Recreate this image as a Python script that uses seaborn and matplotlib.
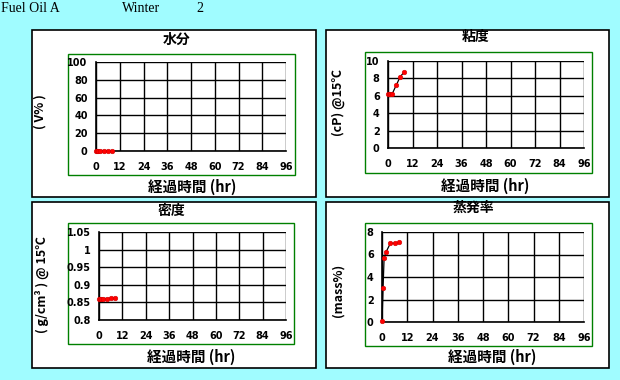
import matplotlib
matplotlib.use("Agg")
import matplotlib.pyplot as plt
import seaborn as sns
import pandas as pd
from matplotlib.patches import Rectangle

# ---- data ----
hours = [0, 0.5, 1, 2, 4, 6, 8]
water = [0, 0, 0, 0, 0, 0, 0]
viscosity = [6.2, 6.2, 6.2, 6.2, 7.2, 8.2, 8.75]
density = [0.859, 0.860, 0.860, 0.861, 0.861, 0.862, 0.862]
evaporation = [0.05, 3.0, 5.7, 6.25, 7.0, 7.0, 7.08]
x_ticks = [0, 12, 24, 36, 48, 60, 72, 84, 96]

titles = ["水分", "粘度", "密度", "蒸発率"]
ylabels = ["( V% )", "(cP) @15℃", "( g/cm³ ) @ 15℃", "(mass%)"]
xlabel = "経過時間 (hr)"
header = ["Fuel Oil A", "Winter", "2"]

y_ticks = [
    [0, 20, 40, 60, 80, 100],
    [0, 2, 4, 6, 8, 10],
    [0.8, 0.85, 0.9, 0.95, 1, 1.05],
    [0, 2, 4, 6, 8],
]
y_ticklabels = [
    ["0", "20", "40", "60", "80", "100"],
    ["0", "2", "4", "6", "8", "10"],
    ["0.8", "0.85", "0.9", "0.95", "1", "1.05"],
    ["0", "2", "4", "6", "8"],
]
series = [water, viscosity, density, evaporation]

sns.set_style("white")
plt.rcParams['font.family'] = ['Noto Sans CJK JP', 'DejaVu Sans']

W, H = 620, 380
fig = plt.figure(figsize=(6.2, 3.8), dpi=100)
fig.patch.set_facecolor("#A0FCFF")

def px_rect(x0, y0, x1, y1):
    return (x0 / W, 1 - y1 / H, (x1 - x0) / W, (y1 - y0) / H)

# white panels
panels = [(32, 30, 316, 197), (326, 30, 609, 197), (32, 202, 316, 368), (326, 202, 609, 368)]
for (x0, y0, x1, y1) in panels:
    l, b, w, h = px_rect(x0, y0, x1, y1)
    fig.patches.append(Rectangle((l, b), w, h, transform=fig.transFigure,
                                 facecolor="white", edgecolor="black", lw=1.2, zorder=-2))
# green frames
frames = [(68, 54, 295, 175), (365, 52, 592, 173), (68, 223, 294, 344), (365, 223, 592, 346)]
for (x0, y0, x1, y1) in frames:
    l, b, w, h = px_rect(x0, y0, x1, y1)
    fig.patches.append(Rectangle((l, b), w, h, transform=fig.transFigure,
                                 facecolor="none", edgecolor="#008000", lw=1.0, zorder=-1))

axes_px = [(96, 62, 286, 151), (388, 61, 584, 148), (99, 232, 286, 320), (382, 232, 584, 322)]
title_pos = [(177, 40), (476, 37), (171, 211), (473, 208)]
xlabel_pos = [(192, 187), (485, 186), (191, 357), (492, 357)]
ylabel_pos = [(40, 112), (338, 103), (42, 285), (338, 290)]

bold = dict(fontweight="bold", color="black")
tickfont = dict(fontweight="bold", color="black", family=["DejaVu Sans"], fontsize=7)

for i in range(4):
    ax = fig.add_axes(px_rect(*axes_px[i]))
    ax.set_zorder(3)
    ax.set_facecolor("none")
    df = pd.DataFrame({"t": hours, "v": series[i]})
    sns.lineplot(data=df, x="t", y="v", ax=ax, color="black", lw=0.9,
                 marker="o", markersize=3.3, markerfacecolor="red",
                 markeredgecolor="#D00000", markeredgewidth=0.4, zorder=5, clip_on=False)
    ax.set_xlim(0, 96)
    ax.set_ylim(y_ticks[i][0], y_ticks[i][-1])
    ax.set_xticks(x_ticks)
    ax.set_xticklabels([str(t) for t in x_ticks], **tickfont)
    ax.set_yticks(y_ticks[i])
    ax.set_yticklabels(y_ticklabels[i], **tickfont)
    ax.grid(True, color="black", lw=1.0)
    ax.set_axisbelow(True)
    for s in ["top", "right"]:
        ax.spines[s].set_visible(False)
    for s in ["left", "bottom"]:
        ax.spines[s].set_color("black")
        ax.spines[s].set_linewidth(1.2)
    ax.tick_params(axis="x", direction="in", length=3, width=1, pad=8, colors="black")
    ax.tick_params(axis="y", length=0, pad=6, colors="black")
    ax.set_xlabel("")
    ax.set_ylabel("")
    tx, ty = title_pos[i]
    fig.text(tx / W, 1 - ty / H, titles[i], ha="center", va="center", fontsize=10, **bold)
    lx, ly = xlabel_pos[i]
    fig.text(lx / W, 1 - ly / H, xlabel, ha="center", va="center", fontsize=10.5, **bold)
    yx, yy = ylabel_pos[i]
    fig.text(yx / W, 1 - yy / H, ylabels[i], ha="center", va="center", rotation=90,
             fontsize=9, **bold)

hx = [1, 122, 196]
for x, s in zip(hx, header):
    fig.text(x / W, 1 - 8 / H, s, ha="left", va="center", fontsize=10,
             family=["Liberation Serif", "DejaVu Serif"], color="black")

fig.savefig("out.png", dpi=100, facecolor=fig.get_facecolor())
